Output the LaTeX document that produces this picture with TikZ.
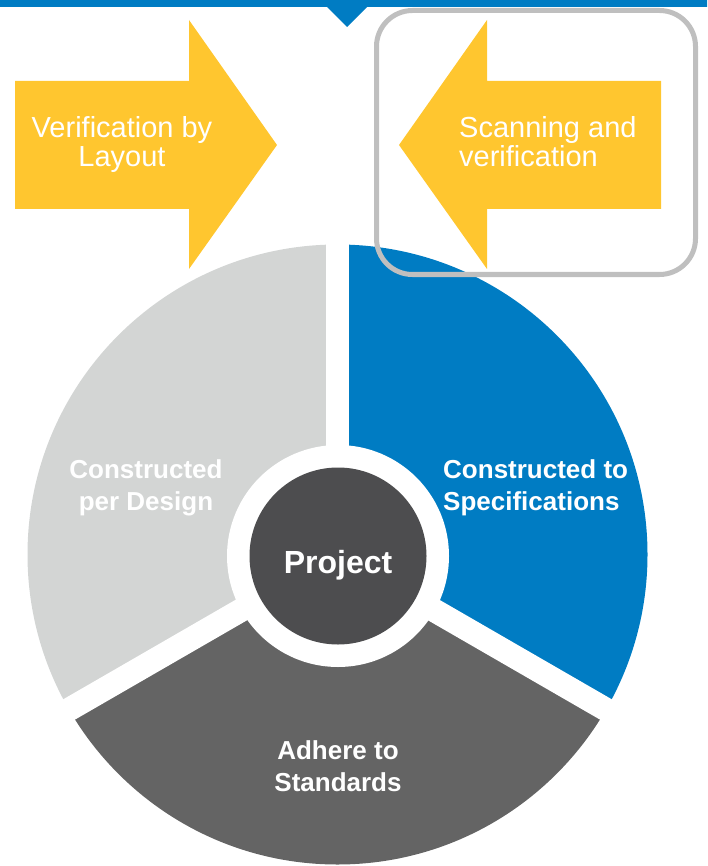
\documentclass[tikz,border=0pt]{standalone}
\usepackage{fontspec}
\setmainfont{Liberation Sans}
\usetikzlibrary{calc}
\definecolor{barblue}{RGB}{0,124,195}
\definecolor{arrowyellow}{RGB}{255,198,47}
\definecolor{segblue}{RGB}{0,124,195}
\definecolor{seglight}{RGB}{211,213,212}
\definecolor{segdark}{RGB}{100,100,100}
\definecolor{hubgray}{RGB}{77,77,79}
\definecolor{framegray}{RGB}{191,191,191}
\tikzset{
  arrowtext/.style={text=white, inner sep=0pt, font=\fontsize{29}{29}\selectfont},
  segtext/.style={text=white, inner sep=0pt, font=\bfseries\fontsize{26}{32}\selectfont},
  gapline/.style={white, line width=23.5pt},
}
\begin{document}
\begin{tikzpicture}[x=1pt, y=-1pt]
\useasboundingbox (0,0) rectangle (707,866);

% top band with its downward notch
\fill[barblue] (0,0) -- (707,0) -- (707,7) -- (367,7) -- (347,27) -- (327,7) -- (0,7) -- cycle;

% block arrows (labels are placed by the baseline of their last line)
\fill[arrowyellow] (15,81) -- (189,81) -- (189,20) -- (277,145) -- (189,269) -- (189,209) -- (15,209) -- cycle;
\fill[arrowyellow] (661,81) -- (487,81) -- (487,20) -- (399,145) -- (487,269) -- (487,209) -- (661,209) -- cycle;
\node[arrowtext, align=center, anchor=base] (layout) at (122,167) {Verification by\\Layout};
\node[arrowtext, align=left, anchor=base west] (scan) at (459,167) {Scanning and\\verification};

% three-part wheel
\coordinate (C) at (337.5,554.5);
\begin{scope}
  \clip (C) circle (310);
  \fill[segblue]  (C) -- ($(C)+(-90:600)$) -- ($(C)+(-30:600)$) -- ($(C)+(30:600)$) -- cycle;
  \fill[segdark]  (C) -- ($(C)+(30:600)$) -- ($(C)+(90:600)$) -- ($(C)+(150:600)$) -- cycle;
  \fill[seglight] (C) -- ($(C)+(150:600)$) -- ($(C)+(210:600)$) -- ($(C)+(270:600)$) -- cycle;
\end{scope}
\draw[gapline] (C) -- ($(C)+(-90:330)$);
\draw[gapline] (C) -- ($(C)+(30:330)$);
\draw[gapline] (C) -- ($(C)+(150:330)$);

% hub
\coordinate (H) at (338,556);
\fill[white] (H) circle (111);
\node[circle, fill=hubgray, minimum size=177pt, inner sep=0pt] (hub) at (H) {};
\node[text=white, inner sep=0pt, anchor=base, font=\bfseries\fontsize{32}{38}\selectfont] (project) at (338,573) {Project};

% segment labels
\node[segtext, align=center, anchor=base] (design) at (146,510) {Constructed\\per Design};
\node[segtext, align=left, anchor=base west] (spec) at (443,510) {Constructed to\\Specifications};
\node[segtext, align=center, anchor=base] (standards) at (338,791) {Adhere to\\Standards};

% highlight frame
\draw[framegray, line width=5pt, rounded corners=36pt] (376.5,10.5) rectangle (695.5,274.5);
\end{tikzpicture}
\end{document}
